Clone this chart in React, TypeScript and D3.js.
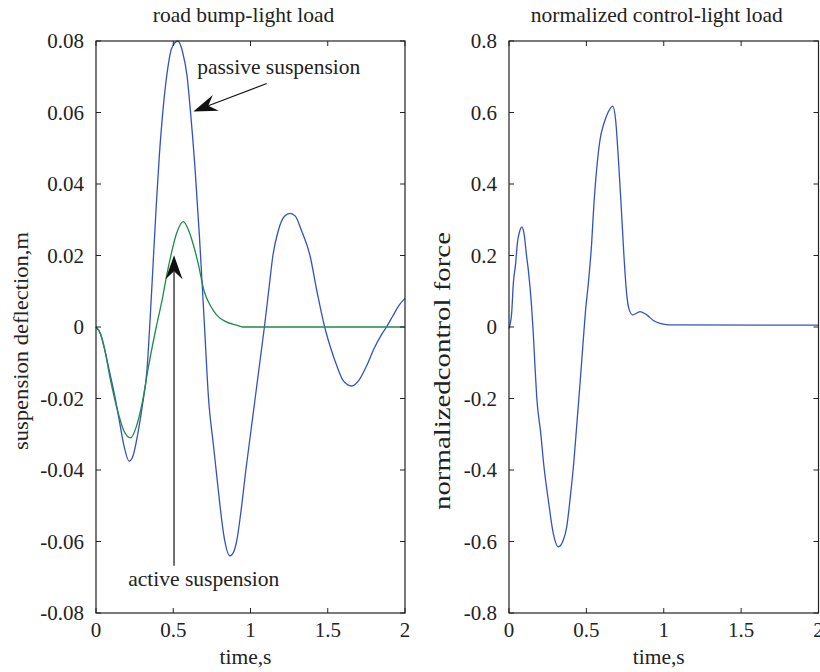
import React from 'react';
import * as d3 from 'd3';

// ---- Data ----
const passiveT = [0, 0.03, 0.06, 0.09, 0.12, 0.15, 0.18, 0.214, 0.24, 0.27, 0.30, 0.33, 0.35, 0.37, 0.39, 0.41, 0.43, 0.46, 0.49, 0.53, 0.56, 0.59, 0.61, 0.64, 0.67, 0.70, 0.73, 0.76, 0.78, 0.80, 0.83, 0.867, 0.89, 0.91, 0.94, 0.97, 1.00, 1.03, 1.06, 1.09, 1.12, 1.145, 1.18, 1.22, 1.256, 1.29, 1.33, 1.385, 1.43, 1.48, 1.52, 1.56, 1.60, 1.655, 1.70, 1.75, 1.80, 1.85, 1.88, 1.92, 1.96, 2.0];
const passiveV = [0, -0.002, -0.007, -0.013, -0.019, -0.026, -0.033, -0.0375, -0.036, -0.030, -0.022, -0.012, 0.002, 0.018, 0.034, 0.048, 0.059, 0.071, 0.078, 0.080, 0.077, 0.070, 0.061, 0.045, 0.025, 0.002, -0.021, -0.033, -0.041, -0.049, -0.059, -0.064, -0.063, -0.060, -0.051, -0.040, -0.030, -0.020, -0.010, 0.000, 0.011, 0.020, 0.027, 0.031, 0.0318, 0.031, 0.027, 0.020, 0.010, 0.000, -0.006, -0.011, -0.015, -0.0165, -0.015, -0.011, -0.006, -0.002, 0.000, 0.003, 0.006, 0.008];

const activeT = [0, 0.03, 0.06, 0.09, 0.12, 0.15, 0.18, 0.225, 0.26, 0.30, 0.34, 0.39, 0.43, 0.46, 0.49, 0.52, 0.565, 0.60, 0.63, 0.66, 0.70, 0.74, 0.78, 0.84, 0.91, 0.95, 2.0];
const activeV = [0, -0.002, -0.007, -0.014, -0.020, -0.025, -0.029, -0.031, -0.028, -0.021, -0.011, 0.000, 0.008, 0.015, 0.021, 0.026, 0.0295, 0.027, 0.023, 0.018, 0.010, 0.006, 0.0034, 0.0015, 0.0005, 0.0, 0.0];

const forceT = [0, 0.017, 0.028, 0.043, 0.054, 0.071, 0.082, 0.097, 0.114, 0.125, 0.146, 0.157, 0.168, 0.179, 0.205, 0.226, 0.254, 0.286, 0.319, 0.351, 0.373, 0.394, 0.42, 0.437, 0.459, 0.48, 0.495, 0.513, 0.534, 0.549, 0.566, 0.588, 0.614, 0.642, 0.67, 0.689, 0.706, 0.724, 0.743, 0.76, 0.777, 0.799, 0.847, 0.89, 0.933, 0.976, 1.03, 2.0];
const forceV = [-0.004, 0.038, 0.122, 0.178, 0.234, 0.271, 0.280, 0.262, 0.197, 0.159, 0.057, -0.018, -0.111, -0.195, -0.297, -0.391, -0.484, -0.577, -0.615, -0.596, -0.559, -0.484, -0.372, -0.279, -0.158, -0.036, 0.048, 0.123, 0.234, 0.346, 0.439, 0.523, 0.570, 0.602, 0.618, 0.579, 0.476, 0.346, 0.197, 0.094, 0.048, 0.034, 0.043, 0.034, 0.018, 0.010, 0.006, 0.005];

const xTicks = [0, 0.5, 1, 1.5, 2];
const leftYTicks = [-0.08, -0.06, -0.04, -0.02, 0, 0.02, 0.04, 0.06, 0.08];
const rightYTicks = [-0.8, -0.6, -0.4, -0.2, 0, 0.2, 0.4, 0.6, 0.8];

const titles = ['road bump-light load', 'normalized control-light load'];
const yLabels = ['suspension deflection,m', 'normalizedcontrol force'];
const xLabel = 'time,s';
const annotations = ['passive suspension', 'active suspension'];

const FONT = '"Liberation Serif", "Times New Roman", serif';
const TEXT = '#222';
const BLUE = '#3352C2';
const GREEN = '#1F8A4C';

type Series = { t: number[]; v: number[]; color: string };

function arrow(x1: number, y1: number, x2: number, y2: number) {
  const dx = x2 - x1, dy = y2 - y1;
  const len = Math.hypot(dx, dy);
  const ux = dx / len, uy = dy / len;
  const nx = -uy, ny = ux;
  const L = 24, W = 8.5, notch = 16;
  const bx = x2 - ux * L, by = y2 - uy * L;
  const mx = x2 - ux * notch, my = y2 - uy * notch;
  const head = `M${x2},${y2}L${bx + nx * W},${by + ny * W}L${mx},${my}L${bx - nx * W},${by - ny * W}Z`;
  return (
    <g>
      <line x1={x1} y1={y1} x2={mx} y2={my} stroke="#111" strokeWidth={1.2} />
      <path d={head} fill="#111" />
    </g>
  );
}

function Panel(props: {
  left: number; right: number; top: number; bottom: number;
  yDomain: [number, number]; yTicks: number[]; series: Series[];
  title: string; yLabel: string; yLabelX: number; yLabelY: number; yLabelLen?: number; yLabelSize: number;
  children?: (x: d3.ScaleLinear<number, number>, y: d3.ScaleLinear<number, number>) => React.ReactNode;
}) {
  const { left, right, top, bottom, yDomain, yTicks, series, title, yLabel } = props;
  const x = d3.scaleLinear().domain([0, 2]).range([left, right]);
  const y = d3.scaleLinear().domain(yDomain).range([bottom, top]);
  const cx = (left + right) / 2 - 7;
  const tk = 5;
  return (
    <g style={{ fontFamily: FONT }} fill={TEXT}>
      <text x={cx} y={22} textAnchor="middle" fontSize={21.5}>{title}</text>
      {series.map((s, i) => {
        const pts = s.t.map((t, j) => [t, s.v[j]] as [number, number]);
        const line = d3.line<[number, number]>().x(d => x(d[0])).y(d => y(d[1])).curve(d3.curveMonotoneX);
        return <path key={i} d={line(pts) || ''} fill="none" stroke={s.color} strokeWidth={1.3} />;
      })}
      <rect x={left} y={top} width={right - left} height={bottom - top} fill="none" stroke="#222" strokeWidth={1.2} />
      {xTicks.map((t, i) => (
        <g key={'x' + i}>
          <line x1={x(t)} x2={x(t)} y1={bottom} y2={bottom - tk} stroke="#222" />
          <line x1={x(t)} x2={x(t)} y1={top} y2={top + tk} stroke="#222" />
          <text x={x(t)} y={bottom + 24} textAnchor="middle" fontSize={21}>{String(t)}</text>
        </g>
      ))}
      {yTicks.map((v, i) => (
        <g key={'y' + i}>
          <line x1={left} x2={left + tk} y1={y(v)} y2={y(v)} stroke="#222" />
          <line x1={right} x2={right - tk} y1={y(v)} y2={y(v)} stroke="#222" />
          <text x={left - 12} y={y(v)} dy="0.35em" textAnchor="end" fontSize={21}>{String(v)}</text>
        </g>
      ))}
      <text x={cx + 2} y={664} textAnchor="middle" fontSize={21.5}>{xLabel}</text>
      <text
        transform={`translate(${props.yLabelX},${props.yLabelY}) rotate(-90)`}
        textAnchor="middle"
        dy="0.35em"
        fontSize={props.yLabelSize}
        textLength={props.yLabelLen}
        lengthAdjust={props.yLabelLen ? 'spacingAndGlyphs' : undefined}
      >{yLabel}</text>
      {props.children ? props.children(x, y) : null}
    </g>
  );
}

export default function App() {
  return (
    <svg width={820} height={672} style={{ position: 'absolute', left: 0, top: 0, background: '#fff' }}>
      <rect x={0} y={0} width={820} height={672} fill="#fff" />
      <Panel
        left={96} right={405} top={41} bottom={613}
        yDomain={[-0.08, 0.08]} yTicks={leftYTicks}
        series={[{ t: passiveT, v: passiveV, color: BLUE }, { t: activeT, v: activeV, color: GREEN }]}
        title={titles[0]} yLabel={yLabels[0]} yLabelX={20} yLabelY={341} yLabelLen={218} yLabelSize={21.5}
      >
        {(x, y) => (
          <g>
            <text x={x(0.655)} y={y(0.0707)} fontSize={21.5} fill={TEXT}>{annotations[0]}</text>
            {arrow(x(1.105), y(0.0681), x(0.63), y(0.0603))}
            <text x={x(0.209)} y={y(-0.0725)} fontSize={21.5} fill={TEXT}>{annotations[1]}</text>
            {arrow(x(0.505), y(-0.0668), x(0.505), y(0.0201))}
          </g>
        )}
      </Panel>
      <Panel
        left={509} right={818.5} top={41} bottom={613}
        yDomain={[-0.8, 0.8]} yTicks={rightYTicks}
        series={[{ t: forceT, v: forceV, color: BLUE }]}
        title={titles[1]} yLabel={yLabels[1]} yLabelX={442} yLabelY={371} yLabelLen={278} yLabelSize={24}
      />
    </svg>
  );
}
